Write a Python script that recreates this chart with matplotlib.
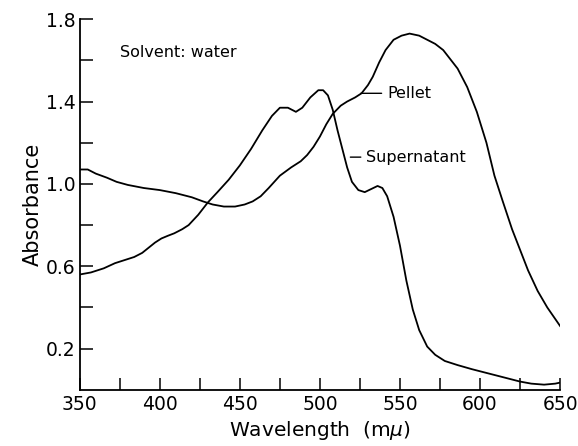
import numpy as np
import matplotlib
matplotlib.use('Agg')
import matplotlib.pyplot as plt

# Supernatant spectrum (wavelength in m-mu, absorbance)
sup_wl = [350, 357, 365, 372, 378, 384, 389, 393, 397, 401, 405, 409, 414, 418, 424, 430,
          436, 443, 450, 457, 464, 470, 475, 480, 485, 489, 494, 499, 502, 505, 508,
          511, 514, 517, 520, 524, 528, 532, 536, 539, 542, 546, 550, 554, 558, 562,
          567, 572, 578, 586, 595, 605, 615, 625, 632, 640, 647, 650]
sup_abs = [0.56, 0.57, 0.59, 0.615, 0.63, 0.645, 0.665, 0.69, 0.715, 0.735, 0.748, 0.76, 0.78, 0.80, 0.85, 0.91,
           0.96, 1.02, 1.09, 1.17, 1.26, 1.33, 1.37, 1.37, 1.35, 1.37, 1.42, 1.455, 1.455, 1.43, 1.36,
           1.26, 1.17, 1.08, 1.01, 0.97, 0.96, 0.975, 0.99, 0.98, 0.94, 0.84, 0.70, 0.53, 0.39, 0.29,
           0.21, 0.17, 0.14, 0.12, 0.10, 0.08, 0.06, 0.04, 0.03, 0.025, 0.03, 0.035]

# Pellet spectrum
pel_wl = [350, 355, 360, 367, 373, 380, 390, 400, 410, 420, 427, 433, 440, 447, 453,
          458, 463, 468, 475, 482, 488, 492, 496, 500, 504, 508, 513, 517, 522, 526,
          530, 533, 537, 541, 546, 551, 556, 562, 567, 572, 577, 581, 586, 592, 598,
          604, 609, 614, 620, 625, 630, 636, 642, 650]
pel_abs = [1.07, 1.07, 1.05, 1.03, 1.01, 0.995, 0.98, 0.97, 0.955, 0.935, 0.915, 0.90, 0.89, 0.89, 0.90,
           0.915, 0.94, 0.98, 1.04, 1.08, 1.11, 1.14, 1.18, 1.23, 1.29, 1.34, 1.38, 1.40, 1.42, 1.44,
           1.48, 1.52, 1.59, 1.65, 1.70, 1.72, 1.73, 1.72, 1.70, 1.68, 1.65, 1.61, 1.56, 1.47, 1.35,
           1.20, 1.04, 0.92, 0.78, 0.68, 0.58, 0.48, 0.40, 0.31]

x_ticks = np.arange(350, 651, 25)
x_labels = ['350', '', '400', '', '450', '', '500', '', '550', '', '600', '', '650']
y_ticks = np.arange(0.2, 1.81, 0.2)
y_labels = ['0.2', '', '0.6', '', '1.0', '', '1.4', '', '1.8']

plt.rcParams['font.family'] = 'DejaVu Sans'

fig = plt.figure(figsize=(5.78, 4.46), dpi=100)
ax = fig.add_axes([0.138, 0.126, 0.831, 0.831])

ax.plot(pel_wl, pel_abs, color='black', lw=1.3)
ax.plot(sup_wl, sup_abs, color='black', lw=1.3)

ax.set_xlim(350, 650)
ax.set_ylim(0, 1.8)
ax.spines['top'].set_visible(False)
ax.spines['right'].set_visible(False)
for s in ['left', 'bottom']:
    ax.spines[s].set_linewidth(1.3)

ax.set_xticks(x_ticks)
ax.set_xticklabels(x_labels)
ax.set_yticks(y_ticks)
ax.set_yticklabels(y_labels)
ax.tick_params(direction='in', length=9, width=1.1, labelsize=13.5)
ax.tick_params(axis='x', pad=4)
ax.tick_params(axis='y', pad=3)

ax.set_xlabel('Wavelength  (m$\\mu$)', fontsize=14.5, labelpad=3)
ax.set_ylabel('Absorbance', fontsize=15, labelpad=2)

ax.text(375, 1.64, 'Solvent: water', fontsize=11.5, va='center')
ax.annotate('Pellet', xy=(525.5, 1.44), xytext=(542, 1.44), fontsize=11.5, va='center',
            arrowprops=dict(arrowstyle='-', lw=1.0, shrinkA=2, shrinkB=0))
ax.annotate('Supernatant', xy=(519, 1.13), xytext=(529, 1.13), fontsize=11.5, va='center',
            arrowprops=dict(arrowstyle='-', lw=1.0, shrinkA=2, shrinkB=0))

fig.savefig('out.png', dpi=100)
